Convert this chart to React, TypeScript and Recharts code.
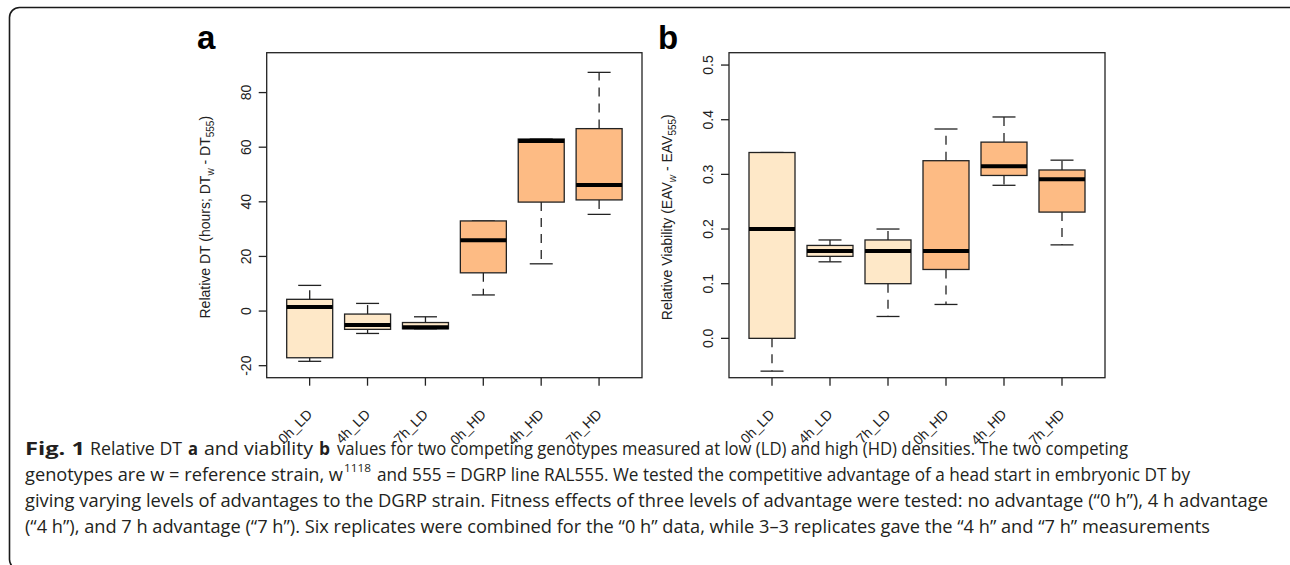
import { ComposedChart, Bar, XAxis, YAxis } from "recharts";

// groups (advantage _ density)
const groups = ["0h_LD", "4h_LD", "7h_LD", "0h_HD", "4h_HD", "7h_HD"];

// panel a: relative DT, hours
const dtLow = [-18.4, -8.2, -6.5, 5.9, 17.3, 35.4];
const dtQ1 = [-17.1, -6.7, -6.5, 14.0, 39.9, 40.7];
const dtMedian = [1.5, -5.1, -5.9, 25.9, 62.3, 46.2];
const dtQ3 = [4.3, -1.1, -4.2, 33.0, 63.0, 66.8];
const dtHigh = [9.4, 2.8, -2.1, 33.0, 63.0, 87.4];
const dtTicks = [-20, 0, 20, 40, 60, 80];

// panel b: relative viability
const vLow = [-0.06, 0.14, 0.04, 0.062, 0.28, 0.171];
const vQ1 = [0.0, 0.15, 0.1, 0.126, 0.298, 0.231];
const vMedian = [0.2, 0.16, 0.16, 0.16, 0.315, 0.291];
const vQ3 = [0.34, 0.17, 0.18, 0.325, 0.359, 0.308];
const vHigh = [0.34, 0.18, 0.2, 0.383, 0.405, 0.326];
const vTicks = [0, 0.1, 0.2, 0.3, 0.4, 0.5];

type Row = { group: string; low: number; q1: number; median: number; q3: number; high: number };

const makeRows = (low: number[], q1: number[], med: number[], q3: number[], high: number[]): Row[] =>
  groups.map((g, i) => ({ group: g, low: low[i], q1: q1[i], median: med[i], q3: q3[i], high: high[i] }));

const dtRows = makeRows(dtLow, dtQ1, dtMedian, dtQ3, dtHigh);
const vRows = makeRows(vLow, vQ1, vMedian, vQ3, vHigh);

const FONT = "'Liberation Sans', Arial, Helvetica, sans-serif";
const CAPTION_FONT = "'Liberation Sans Narrow', 'Open Sans', sans-serif";
const INK = "#222";

function BoxShape(props: any) {
  const { x, y, width, height, payload } = props;
  const top = Math.min(y, y + height);
  const bottom = Math.max(y, y + height);
  const k = (bottom - top) / (payload.q3 - payload.q1);
  const toY = (v: number) => top + (payload.q3 - v) * k;
  const cx = x + width / 2;
  const cap = width / 4;
  const fill = payload.group.endsWith("HD") ? "#FDBB84" : "#FEE8C8";
  const yHi = toY(payload.high);
  const yLo = toY(payload.low);
  const yMed = toY(payload.median);
  return (
    <g>
      <line x1={cx} x2={cx} y1={top} y2={yHi} stroke={INK} strokeWidth={1.3} strokeDasharray="9 7" />
      <line x1={cx} x2={cx} y1={bottom} y2={yLo} stroke={INK} strokeWidth={1.3} strokeDasharray="9 7" />
      <line x1={cx - cap} x2={cx + cap} y1={yHi} y2={yHi} stroke={INK} strokeWidth={1.3} />
      <line x1={cx - cap} x2={cx + cap} y1={yLo} y2={yLo} stroke={INK} strokeWidth={1.3} />
      <rect x={x} y={top} width={width} height={bottom - top} fill={fill} stroke={INK} strokeWidth={1.3} />
      <line x1={x} x2={x + width} y1={yMed} y2={yMed} stroke="#000" strokeWidth={4} />
    </g>
  );
}

function XTick(props: any) {
  const { x, y, payload } = props;
  const ax = x;
  const ay = y + 24;
  return (
    <text x={ax} y={ay} transform={`rotate(-45, ${ax}, ${ay})`} textAnchor="end" dominantBaseline="central"
      fontSize={14} fontFamily={FONT} fill={INK}>
      {payload.value}
    </text>
  );
}

function makeYTick(fmt: (v: number) => string) {
  return (props: any) => {
    const { x, y, payload } = props;
    const bx = x - 6;
    return (
      <text x={bx} y={y} transform={`rotate(-90, ${bx}, ${y})`} textAnchor="middle"
        fontSize={14} fontFamily={FONT} fill={INK}>
        {fmt(payload.value)}
      </text>
    );
  };
}

function makeTitle(main: string, sub1: string, mid: string, sub2: string, italicSub = false) {
  return (props: any) => {
    const vb = props.viewBox;
    const bx = vb.x + 3.3;
    const by = vb.y + vb.height / 2 + 2;
    return (
      <text x={bx} y={by} transform={`rotate(-90, ${bx}, ${by})`} textAnchor="middle"
        fontSize={14} fontFamily={FONT} fill={INK}>
        {main}
        <tspan fontSize={10} dy={4} fontStyle={italicSub ? "italic" : "normal"}>{sub1}</tspan>
        <tspan dy={-4}>{mid}</tspan>
        <tspan fontSize={10} dy={4}>{sub2}</tspan>
        <tspan dy={-4}>)</tspan>
      </text>
    );
  };
}

function BoxPanel({ rows, domain, ticks, fmt, title, left, marginLeft, marginRight }: any) {
  return (
    <div style={{ position: "absolute", left, top: 20 }}>
      <ComposedChart width={480} height={440} data={rows}
        margin={{ top: 32.7, right: marginRight, bottom: 22.3, left: marginLeft }}>
        <XAxis dataKey="group" type="category" interval={0} padding={{ left: 14, right: 14 }} height={60}
          axisLine={false} tickSize={8} tickLine={{ stroke: INK, strokeWidth: 1.3 }} tick={<XTick />} />
        <YAxis type="number" domain={domain} ticks={ticks} width={60} axisLine={false} tickSize={8}
          tickLine={{ stroke: INK, strokeWidth: 1.3 }} tick={makeYTick(fmt)} label={{ content: title }} />
        <Bar dataKey={(d: Row) => [d.q1, d.q3]} barSize={46} isAnimationActive={false} shape={<BoxShape />} />
      </ComposedChart>
    </div>
  );
}

// one caption piece, stretched to the width it has in the figure
function Cap({ x, y, w, bold, size = 18, children }: any) {
  return (
    <text x={x} y={y} textLength={w} lengthAdjust="spacingAndGlyphs" fontWeight={bold ? "bold" : "normal"}
      fontSize={size} fontFamily={CAPTION_FONT} fill="#231f20">
      {children}
    </text>
  );
}

export default function App() {
  return (
    <div style={{ position: "absolute", left: 0, top: 0, width: 1290, height: 565, overflow: "hidden", background: "#fff", fontFamily: FONT }}>
      <BoxPanel rows={dtRows} domain={[-24.4, 94.6]} ticks={dtTicks} fmt={(v: number) => String(v)}
        title={makeTitle("Relative DT (hours; DT", "w", " - DT", "555")} left={180} marginLeft={26.7} marginRight={18} />
      <BoxPanel rows={vRows} domain={[-0.072, 0.5226]} ticks={vTicks} fmt={(v: number) => v.toFixed(1)}
        title={makeTitle("Relative Viability (EAV", "w", " - EAV", "555", true)} left={640} marginLeft={29} marginRight={15} />
      <svg width={1290} height={565} style={{ position: "absolute", left: 0, top: 0, pointerEvents: "none" }}>
        <rect x={9.5} y={7.5} width={1300} height={562} rx={10} fill="none" stroke="#1a1a1a" strokeWidth={1.6} />
        <rect x={266.7} y={52.7} width={375.3} height={325} fill="none" stroke={INK} strokeWidth={1.3} />
        <rect x={729} y={52.7} width={376} height={325} fill="none" stroke={INK} strokeWidth={1.3} />
        <text x={197} y={49} fontSize={33} fontWeight="bold" fontFamily={FONT} fill="#000">a</text>
        <text x={658} y={49} fontSize={33} fontWeight="bold" fontFamily={FONT} fill="#000">b</text>

        <Cap x={25} y={455} w={60} bold>Fig. 1</Cap>
        <Cap x={90} y={455} w={92}>Relative DT</Cap>
        <Cap x={188} y={455} w={10} bold>a</Cap>
        <Cap x={204} y={455} w={109}>and viability</Cap>
        <Cap x={319} y={455} w={11} bold>b</Cap>
        <Cap x={337} y={455} w={791}>values for two competing genotypes measured at low (LD) and high (HD) densities. The two competing</Cap>

        <Cap x={25} y={481} w={318}>genotypes are w = reference strain, w</Cap>
        <Cap x={344} y={472} w={27} size={11}>1118</Cap>
        <Cap x={377} y={481} w={813}>and 555 = DGRP line RAL555. We tested the competitive advantage of a head start in embryonic DT by</Cap>

        <Cap x={25} y={507} w={1243}>giving varying levels of advantages to the DGRP strain. Fitness effects of three levels of advantage were tested: no advantage (“0 h”), 4 h advantage</Cap>
        <Cap x={25} y={533} w={1185}>(“4 h”), and 7 h advantage (“7 h”). Six replicates were combined for the “0 h” data, while 3–3 replicates gave the “4 h” and “7 h” measurements</Cap>
      </svg>
    </div>
  );
}
